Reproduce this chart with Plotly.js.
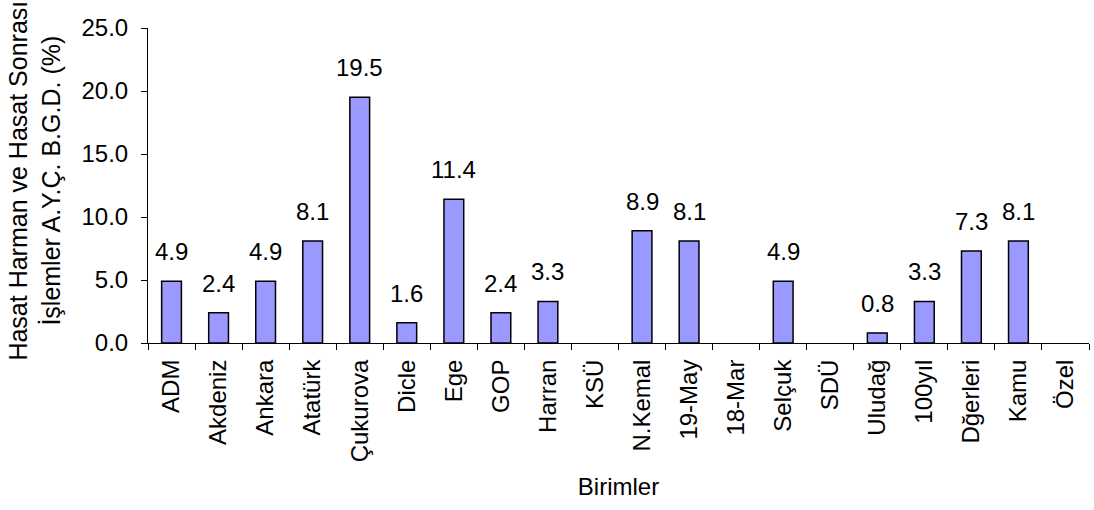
<!DOCTYPE html>
<html>
<head>
<meta charset="utf-8">
<script src="https://cdn.plot.ly/plotly-3.0.1.min.js"></script>
<style>html,body{margin:0;padding:0;background:#fff;}#chart{width:1094px;height:510px;}</style>
</head>
<body>
<div id="chart"></div>
<script>
const categories = ["ADM", "Akdeniz", "Ankara", "Atatürk", "Çukurova", "Dicle", "Ege", "GOP", "Harran", "KSÜ", "N.Kemal", "19-May", "18-Mar", "Selçuk", "SDÜ", "Uludağ", "100yıl", "Dğerleri", "Kamu", "Özel"];
const values = [4.9, 2.4, 4.9, 8.1, 19.5, 1.6, 11.4, 2.4, 3.3, null, 8.9, 8.1, null, 4.9, null, 0.8, 3.3, 7.3, 8.1, null];
const yTickVals = [0, 5, 10, 15, 20, 25];
const xTitle = "Birimler";
const yTitle = "Hasat Harman ve Hasat Sonrası<br>İşlemler A.Y.Ç. B.G.D. (%)";

const FONT = "'Liberation Sans', Arial, sans-serif";

const labelAnnotations = [];
categories.forEach((c, i) => {
  if (values[i] !== null && values[i] > 0) {
    labelAnnotations.push({
      x: c, y: values[i], xref: 'x', yref: 'y',
      text: values[i].toFixed(1), showarrow: false,
      yanchor: 'bottom', xanchor: 'center', yshift: 14,
      font: {family: FONT, size: 24, color: '#000'}
    });
  }
});

labelAnnotations.push({
  xref: 'paper', yref: 'paper', x: -0.1206, y: 0.514,
  xanchor: 'center', yanchor: 'middle', textangle: -90,
  text: yTitle, showarrow: false,
  font: {family: FONT, size: 25, color: '#000'}
});

const trace = {
  type: 'bar', x: categories, y: values,
  marker: {color: '#9999FF', line: {color: '#000', width: 1.5}},
  width: 0.42, hoverinfo: 'none'
};

const layout = {
  width: 1094, height: 510,
  margin: {l: 148, r: 5, t: 28, b: 167},
  paper_bgcolor: '#fff', plot_bgcolor: '#fff',
  showlegend: false,
  font: {family: FONT, size: 24, color: '#000'},
  xaxis: {
    type: 'category', range: [-0.5, categories.length - 0.5],
    showline: true, linecolor: '#000', linewidth: 1,
    ticks: 'outside', tickson: 'boundaries', ticklen: 6, tickcolor: '#000',
    tickangle: -90, showgrid: false, zeroline: false,
    ticklabelstandoff: 6,
    tickfont: {family: FONT, size: 24, color: '#000'},
    title: {text: xTitle, font: {family: FONT, size: 24, color: '#000'}, standoff: 16}
  },
  yaxis: {
    range: [0, 25], tickvals: yTickVals, tickformat: '.1f',
    showline: true, linecolor: '#000', linewidth: 1,
    ticks: 'outside', ticklen: 6, tickcolor: '#000',
    showgrid: false, zeroline: false,
    ticklabelstandoff: 8,
    tickfont: {family: FONT, size: 24, color: '#000'}
  },
  annotations: labelAnnotations
};

Plotly.newPlot('chart', [trace], layout, {displayModeBar: false, staticPlot: true});
</script>
</body>
</html>
